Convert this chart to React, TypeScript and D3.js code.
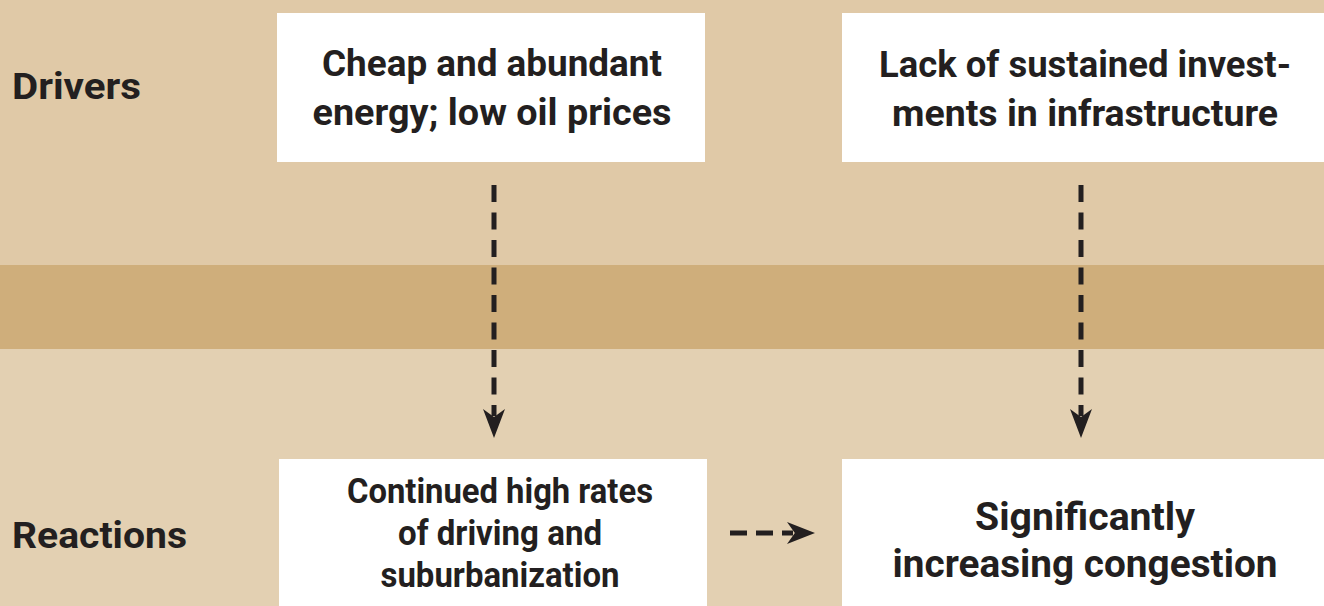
import { useMemo } from 'react';
import * as d3 from 'd3';

// Diagram content
const rowLabels = ['Drivers', 'Reactions'];
const driverBoxes = [
  ['Cheap and abundant', 'energy; low oil prices'],
  ['Lack of sustained invest-', 'ments in infrastructure'],
];
const reactionBoxes = [
  ['Continued high rates', 'of driving and', 'suburbanization'],
  ['Significantly', 'increasing congestion'],
];

const W = 1324;
const H = 606;
const INK = '#231f20';
const FONT = "'Roboto', 'Liberation Sans', sans-serif";

// layout: boxes, text metrics (the reference face is condensed, so each line is fitted)
const TOP_COLS = [
  { x: 277, w: 428, cx: 492, size: 36, lead: 49, first: 76, widths: [340, 359] },
  { x: 842, w: 482, cx: 1085, size: 36, lead: 49, first: 77, widths: [412, 386] },
];
const BOTTOM_COLS = [
  { x: 279, w: 428, cx: 500, size: 35, lead: 42, first: 503, widths: [306, 204, 239] },
  { x: 842, w: 482, cx: 1085, size: 38, lead: 47, first: 530, widths: [220, 385] },
];
const TOP_BOX = { y: 13, h: 149 };
const BOTTOM_BOX = { y: 459, h: 147 };
const LABELS = [
  { x: 12, y: 99, width: 129 },
  { x: 12, y: 548, width: 175 },
];

function arrowHead(tipX: number, tipY: number, dir: 'down' | 'right', len: number, half: number) {
  const p = d3.path();
  if (dir === 'down') {
    p.moveTo(tipX, tipY);
    p.lineTo(tipX - half, tipY - len);
    p.lineTo(tipX, tipY - len * 0.72);
    p.lineTo(tipX + half, tipY - len);
  } else {
    p.moveTo(tipX, tipY);
    p.lineTo(tipX - len, tipY - half);
    p.lineTo(tipX - len * 0.72, tipY);
    p.lineTo(tipX - len, tipY + half);
  }
  p.closePath();
  return p.toString();
}

export default function App() {
  const vArrows = useMemo(
    () => [
      { x: 494, y1: 185, y2: 438 },
      { x: 1081, y1: 185, y2: 438 },
    ],
    []
  );
  const hArrow = { y: 533, x1: 730, x2: 815 };

  const renderBox = (
    lines: string[],
    col: (typeof TOP_COLS)[number],
    box: { y: number; h: number },
    key: string
  ) => (
    <g key={key}>
      <rect x={col.x} y={box.y} width={col.w} height={box.h} fill="#fff" />
      {lines.map((t, j) => (
        <text
          key={j}
          x={col.cx}
          y={col.first + j * col.lead}
          textAnchor="middle"
          fontSize={col.size}
          fontWeight="bold"
          fill={INK}
          textLength={col.widths[j]}
          lengthAdjust="spacingAndGlyphs"
        >
          {t}
        </text>
      ))}
    </g>
  );

  return (
    <div style={{ position: 'fixed', left: 0, top: 0, width: W, height: H }}>
      <svg width={W} height={H} style={{ display: 'block' }} fontFamily={FONT}>
        {/* background bands */}
        <rect x={0} y={0} width={W} height={265} fill="#e0c9a7" />
        <rect x={0} y={265} width={W} height={84} fill="#cfae7b" />
        <rect x={0} y={349} width={W} height={H - 349} fill="#e3d0b2" />

        {/* row labels */}
        {rowLabels.map((label, i) => (
          <text
            key={label}
            x={LABELS[i].x}
            y={LABELS[i].y}
            fontSize={36}
            fontWeight="bold"
            fill={INK}
            textLength={LABELS[i].width}
            lengthAdjust="spacingAndGlyphs"
          >
            {label}
          </text>
        ))}

        {driverBoxes.map((lines, i) => renderBox(lines, TOP_COLS[i], TOP_BOX, `d${i}`))}
        {reactionBoxes.map((lines, i) => renderBox(lines, BOTTOM_COLS[i], BOTTOM_BOX, `r${i}`))}

        {/* vertical dashed arrows */}
        {vArrows.map((a, i) => (
          <g key={`v${i}`}>
            <line
              x1={a.x}
              x2={a.x}
              y1={a.y1}
              y2={a.y2 - 22}
              stroke={INK}
              strokeWidth={5}
              strokeDasharray="17 10.5"
            />
            <path d={arrowHead(a.x, a.y2, 'down', 29, 11)} fill={INK} />
          </g>
        ))}

        {/* horizontal dashed arrow */}
        <line
          x1={hArrow.x1}
          x2={hArrow.x2 - 22}
          y1={hArrow.y}
          y2={hArrow.y}
          stroke={INK}
          strokeWidth={5}
          strokeDasharray="17 9"
        />
        <path d={arrowHead(hArrow.x2, hArrow.y, 'right', 28, 11)} fill={INK} />
      </svg>
    </div>
  );
}
